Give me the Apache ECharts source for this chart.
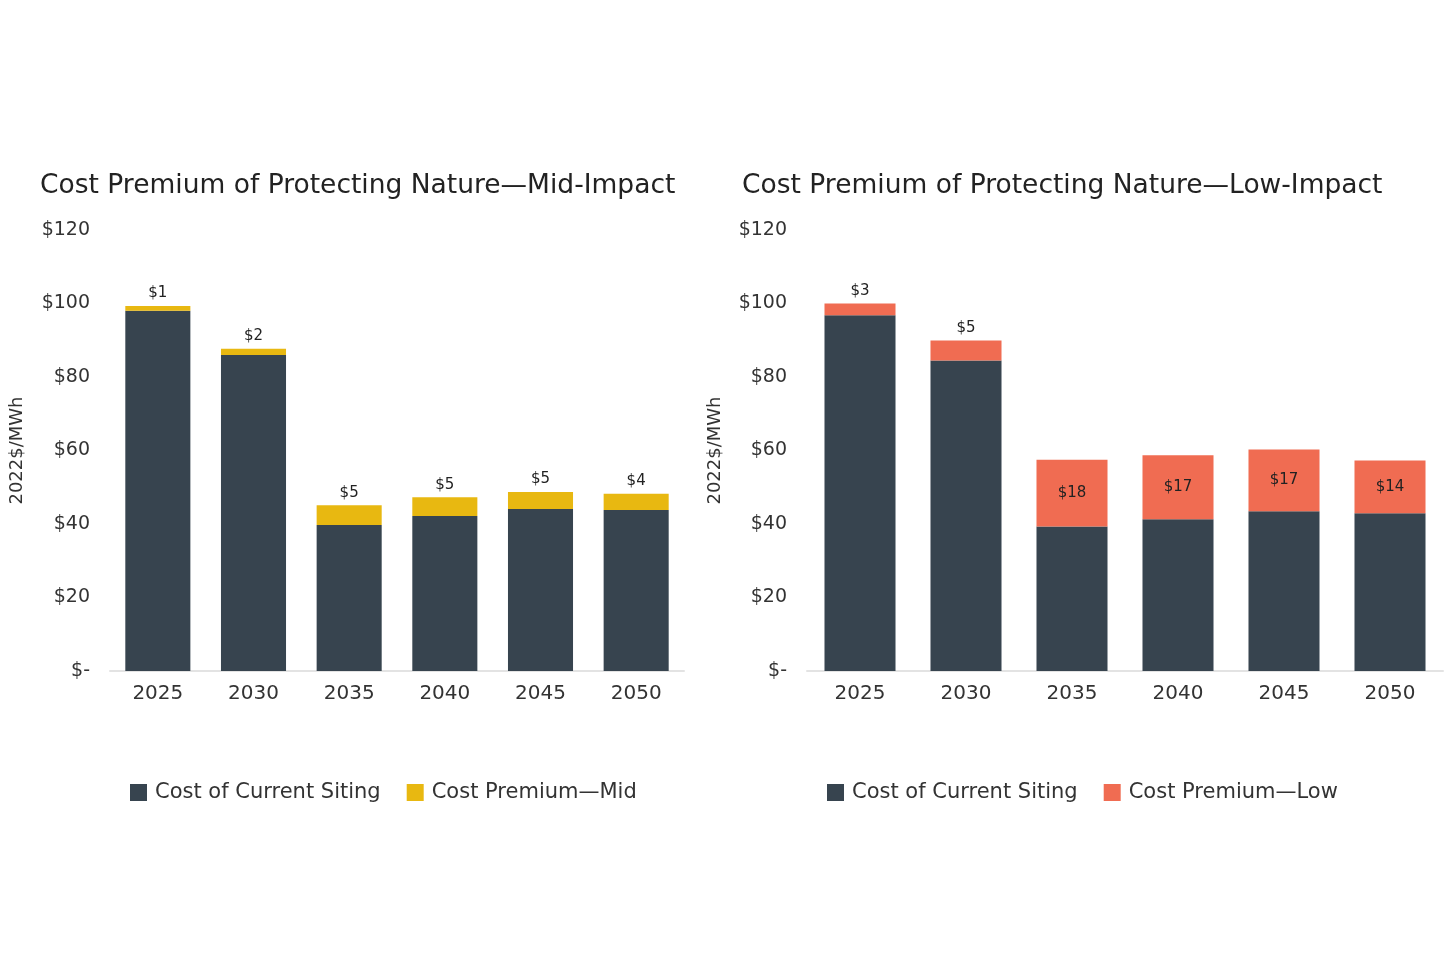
<!DOCTYPE html>
<html><head><meta charset="utf-8">
<script src="https://cdn.jsdelivr.net/npm/echarts@6/dist/echarts.min.js"></script>
<style>html,body{margin:0;padding:0;background:#fff}#c{width:1452px;height:960px}</style>
</head><body><div id="c"></div>
<script>
const years = ['2025','2030','2035','2040','2045','2050'];
const midCurrent = [98.0, 86.0, 39.7, 42.2, 44.1, 43.8];
const midPremium = [1.3, 1.7, 5.4, 5.1, 4.6, 4.4];
const lowCurrent = [96.8, 84.5, 39.3, 41.3, 43.5, 42.9];
const lowPremium = [3.2, 5.4, 18.2, 17.4, 16.8, 14.4];
const titles = ['Cost Premium of Protecting Nature\u2014Mid-Impact','Cost Premium of Protecting Nature\u2014Low-Impact'];
const legendNames = ['Cost of Current Siting','Cost Premium\u2014Mid','Cost Premium\u2014Low'];
const yName = '2022$/MWh';

const FONT = 'DejaVu Sans';
const DARK = '#37444f', YEL = '#e8b811', RED = '#f06c52';
const chart = echarts.init(document.getElementById('c'));
const yAxisBase = (gi, gap) => ({
  type:'value', gridIndex:gi, min:0, max:120, interval:20,
  name:yName, nameLocation:'middle', nameGap:gap, nameRotate:90,
  nameTextStyle:{fontFamily:FONT, fontSize:18, color:'#333'},
  axisLine:{show:false}, axisTick:{show:false}, splitLine:{show:false},
  axisLabel:{fontFamily:FONT, fontSize:19, color:'#333', margin:20, formatter:v=> v===0?'$-':'$'+v}
});
const xAxisBase = gi => ({
  type:'category', gridIndex:gi, data:years,
  axisLine:{lineStyle:{color:'#e3e3e3', width:2}}, axisTick:{show:false},
  axisLabel:{fontFamily:FONT, fontSize:20, color:'#333', margin:13}
});
const fmt = p => '$' + Math.round(p.value);
const legendText = {fontFamily:FONT, fontSize:21, color:'#333', padding:[0,0,0,3]};
chart.setOption({
  animation:false,
  title:[
    {text:titles[0], left:35, top:168, textStyle:{fontFamily:FONT, fontSize:26.5, fontWeight:'normal', color:'#222'}},
    {text:titles[1], left:737, top:168, textStyle:{fontFamily:FONT, fontSize:26.5, fontWeight:'normal', color:'#222'}}
  ],
  legend:[
    {data:[legendNames[0],legendNames[1]], left:125, top:777, itemWidth:17, itemHeight:17, itemGap:26,
     textStyle:legendText, icon:'rect'},
    {data:[legendNames[0],legendNames[2]], left:822, top:777, itemWidth:17, itemHeight:17, itemGap:26,
     textStyle:legendText, icon:'rect'}
  ],
  grid:[
    {left:110, width:574, top:230, bottom:289},
    {left:807, width:636, top:230, bottom:289}
  ],
  xAxis:[xAxisBase(0), xAxisBase(1)],
  yAxis:[yAxisBase(0, 84), yAxisBase(1, 83)],
  series:[
    {name:legendNames[0], type:'bar', stack:'a', xAxisIndex:0, yAxisIndex:0, data:midCurrent,
     barCategoryGap:'32%', itemStyle:{color:DARK}},
    {name:legendNames[1], type:'bar', stack:'a', xAxisIndex:0, yAxisIndex:0, data:midPremium,
     itemStyle:{color:YEL},
     label:{show:true, position:'top', distance:5, fontFamily:FONT, fontSize:15, color:'#222', formatter:fmt}},
    {name:legendNames[0], type:'bar', stack:'b', xAxisIndex:1, yAxisIndex:1, data:lowCurrent,
     barCategoryGap:'33%', itemStyle:{color:DARK}},
    {name:legendNames[2], type:'bar', stack:'b', xAxisIndex:1, yAxisIndex:1,
     data: lowPremium.map((v,i)=>({value:v, label:{position: i<2?'top':'inside'}})),
     itemStyle:{color:RED},
     label:{show:true, distance:5, fontFamily:FONT, fontSize:15, color:'#222', formatter:fmt}}
  ]
});
</script></body></html>
